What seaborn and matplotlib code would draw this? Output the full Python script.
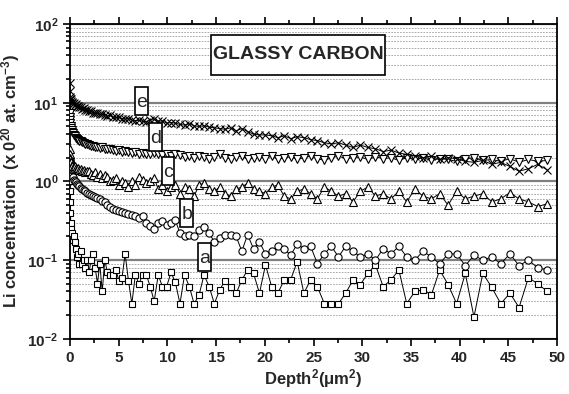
import numpy as np
import matplotlib
matplotlib.use('Agg')
import matplotlib.pyplot as plt
from matplotlib.path import Path
from matplotlib.ticker import LogLocator, MultipleLocator, NullFormatter
import seaborn as sns

# Depth^2 (um^2) sampling of the SIMS profiles
depth2 = [0.0, 0.005, 0.02, 0.04, 0.08, 0.12, 0.18, 0.24, 0.31, 0.40,
          0.49, 0.59, 0.71, 0.83, 0.96, 1.10, 1.25, 1.42, 1.59, 1.77,
          1.96, 2.16, 2.37, 2.59, 2.82, 3.06, 3.31, 3.57, 3.84, 4.12,
          4.41, 4.71, 5.02, 5.34, 5.66, 6.00, 6.35, 6.71, 7.08, 7.45,
          7.84, 8.24, 8.64, 9.06, 9.49, 9.92, 10.37, 10.82, 11.29, 11.76,
          12.25, 12.74, 13.25, 13.76, 14.29, 14.82, 15.37, 15.92, 16.48, 17.06,
          17.64, 18.23, 18.84, 19.45, 20.07, 20.70, 21.34, 21.99, 22.65, 23.32,
          24.01, 24.70, 25.40, 26.11, 26.83, 27.56, 28.30, 29.05, 29.81, 30.58,
          31.36, 32.15, 32.95, 33.76, 34.57, 35.40, 36.24, 37.09, 37.95, 38.81,
          39.69, 40.58, 41.47, 42.38, 43.30, 44.22, 45.16, 46.10, 47.06, 48.02,
          49.00]

# Li concentration (x 10^20 at/cm3) for samples a..e
conc_a = [1.0, 0.75, 0.55, 0.4, 0.3, 0.25, 0.2, 0.22, 0.18, 0.2,
          0.17, 0.14, 0.11, 0.12, 0.09, 0.13, 0.09, 0.1, 0.08, 0.1,
          0.07, 0.1, 0.12, 0.08, 0.05, 0.09, 0.04, 0.1, 0.07, 0.065,
          0.065, 0.075, 0.055, 0.06, 0.12, 0.055, 0.028, 0.065, 0.05, 0.065,
          0.065, 0.046, 0.03, 0.065, 0.046, 0.046, 0.07, 0.052, 0.028, 0.065,
          0.046, 0.028, 0.036, 0.065, 0.046, 0.028, 0.042, 0.055, 0.046, 0.038,
          0.056, 0.075, 0.068, 0.038, 0.087, 0.046, 0.038, 0.056, 0.056, 0.096,
          0.038, 0.056, 0.046, 0.028, 0.028, 0.028, 0.038, 0.056, 0.049, 0.068,
          0.087, 0.046, 0.056, 0.075, 0.028, 0.04, 0.042, 0.036, 0.075, 0.049,
          0.028, 0.068, 0.019, 0.068, 0.045, 0.028, 0.038, 0.025, 0.06, 0.05,
          0.04]
conc_b = [1.9, 1.8, 1.7, 1.6, 1.5, 1.4, 1.3, 1.2, 1.15, 1.05,
          1.0, 0.97, 0.93, 0.9, 0.87, 0.83, 0.8, 0.77, 0.75, 0.72,
          0.7, 0.67, 0.65, 0.63, 0.61, 0.6, 0.57, 0.54, 0.5, 0.47,
          0.44, 0.43, 0.42, 0.41, 0.4, 0.39, 0.37, 0.36, 0.34, 0.36,
          0.3, 0.27, 0.25, 0.3, 0.31, 0.28, 0.3, 0.32, 0.22, 0.2,
          0.21, 0.2, 0.24, 0.26, 0.22, 0.17, 0.19, 0.21, 0.21, 0.2,
          0.13, 0.21, 0.14, 0.17, 0.12, 0.13, 0.15, 0.14, 0.115, 0.16,
          0.14, 0.15, 0.09, 0.12, 0.15, 0.11, 0.15, 0.13, 0.11, 0.12,
          0.1, 0.14, 0.12, 0.15, 0.11, 0.1, 0.13, 0.11, 0.09, 0.12,
          0.12, 0.085, 0.115, 0.1, 0.11, 0.09, 0.12, 0.085, 0.1, 0.08,
          0.075]
conc_c = [2.6, 2.2, 2.0, 1.9, 1.8, 1.75, 1.6, 1.55, 1.5, 1.45,
          1.55, 1.5, 1.45, 1.5, 1.4, 1.45, 1.35, 1.4, 1.3, 1.35,
          1.35, 1.25, 1.2, 1.3, 1.15, 1.25, 1.1, 1.2, 1.15, 1.0,
          1.05, 1.1, 0.9, 1.0, 0.95, 0.85, 1.0, 0.9, 1.15, 1.05,
          0.95, 1.0, 1.1, 0.8, 0.9, 0.75, 0.85, 0.9, 0.7, 0.85,
          0.8, 0.65, 0.9, 0.95, 0.8, 0.75, 0.85, 0.7, 0.65, 0.8,
          0.85, 0.95, 0.8, 0.75, 0.7, 0.85, 0.9, 0.65, 0.6, 0.75,
          0.8, 0.7, 0.6, 0.85, 0.75, 0.65, 0.7, 0.55, 0.75, 0.85,
          0.65, 0.7, 0.6, 0.75, 0.55, 0.8, 0.65, 0.6, 0.7, 0.5,
          0.75, 0.6, 0.65, 0.7, 0.55, 0.6, 0.72, 0.6, 0.55, 0.48,
          0.52]
conc_d = [7.5, 6.5, 6.0, 5.5, 5.0, 4.8, 4.5, 4.3, 4.1, 3.9,
          3.8, 3.6, 3.5, 3.4, 3.3, 3.25, 3.15, 3.1, 3.0, 2.95,
          2.9, 2.85, 2.8, 2.75, 2.7, 2.65, 2.7, 2.6, 2.55, 2.6,
          2.5, 2.45, 2.5, 2.4, 2.45, 2.35, 2.3, 2.35, 2.25, 2.3,
          2.2, 2.25, 2.3, 2.2, 2.15, 2.2, 2.1, 2.2, 2.15, 2.05,
          2.1, 2.0, 2.1, 2.05, 1.95, 2.05, 2.2, 2.0, 1.95, 2.05,
          2.1, 1.9, 2.0, 2.05, 1.95, 2.1, 1.9, 2.0, 2.05, 1.9,
          2.0, 2.1, 1.95, 1.85, 2.0, 2.1, 1.95, 2.0, 2.05, 1.9,
          2.05, 1.95, 2.0, 1.85, 2.0, 1.9, 2.0, 1.85, 1.95, 1.9,
          1.8, 1.95, 2.0, 1.85, 1.9, 1.8, 1.95, 1.75, 1.9, 1.8,
          1.85]
conc_e = [18, 14, 12, 11, 10.5, 11, 10, 10.2, 9.6, 9.8,
          9.3, 9.5, 9.0, 9.1, 8.7, 8.8, 8.4, 8.5, 8.1, 8.0,
          7.8, 7.9, 7.5, 7.4, 7.4, 7.1, 7.2, 6.9, 6.8, 6.9,
          6.6, 6.5, 6.5, 6.3, 6.2, 6.3, 6.0, 5.9, 6.0, 5.8,
          5.7, 6.1, 6.2, 5.8, 5.9, 5.5, 5.6, 5.5, 5.3, 5.2,
          5.4, 5.1, 5.0, 5.1, 4.9, 4.8, 4.7, 4.6, 4.8, 4.4,
          4.7, 4.3, 4.0, 3.9, 3.9, 3.8, 3.6, 3.8, 3.5, 3.7,
          3.6, 3.4, 3.3, 3.1, 3.0, 3.1, 2.9, 2.7, 2.9, 2.7,
          2.6, 2.4, 2.5, 2.3, 2.2, 2.1, 2.0, 2.1, 1.9, 2.0,
          1.95, 1.8, 1.75, 1.85, 1.65, 1.75, 1.55, 1.35, 1.45, 1.65,
          1.4]

labels = ['a', 'b', 'c', 'd', 'e']
label_x = [13.8, 12.0, 10.1, 8.8, 7.35]
label_y = [0.104, 0.376, 1.3, 3.5, 10.1]

sns.set_style('ticks')
plt.rcParams['font.family'] = ['Liberation Sans', 'DejaVu Sans']
plt.rcParams['font.weight'] = 'bold'
plt.rcParams['mathtext.fontset'] = 'custom'
plt.rcParams['mathtext.rm'] = 'Liberation Sans'
plt.rcParams['mathtext.bf'] = 'Liberation Sans:bold'
plt.rcParams['mathtext.it'] = 'Liberation Sans:italic'
plt.rcParams['mathtext.default'] = 'bf'


def tall_box(padx, pad_top, pad_bottom):
    # rectangular text box with separate horizontal / vertical padding
    def style(x0, y0, width, height, mutation_size):
        px = padx * mutation_size
        pt = pad_top * mutation_size
        pb = pad_bottom * mutation_size
        verts = [(x0 - px, y0 - pb), (x0 + width + px, y0 - pb),
                 (x0 + width + px, y0 + height + pt), (x0 - px, y0 + height + pt),
                 (x0 - px, y0 - pb)]
        return Path(verts, closed=True)
    return style


fig, ax = plt.subplots(figsize=(5.69, 3.94), dpi=100)
fig.subplots_adjust(left=0.123, right=0.979, top=0.939, bottom=0.14)

series = [(conc_a, 's', 4.5), (conc_b, 'o', 5.2), (conc_c, '^', 5.8),
          (conc_d, 'v', 5.8), (conc_e, 'x', 5.2)]
for y, m, ms in series:
    sns.lineplot(x=depth2, y=y, ax=ax, color='black', linewidth=0.7,
                 marker=m, markersize=ms, markerfacecolor='white',
                 markeredgecolor='black', markeredgewidth=0.8,
                 estimator=None, sort=False, zorder=3)

ax.set_yscale('log')
ax.set_xlim(0, 50)
ax.set_ylim(0.01, 100)
ax.xaxis.set_major_locator(MultipleLocator(5))
ax.xaxis.set_minor_locator(MultipleLocator(2.5))
ax.yaxis.set_major_locator(LogLocator(base=10))
ax.yaxis.set_minor_locator(LogLocator(base=10, subs=np.arange(2, 10)))
ax.yaxis.set_minor_formatter(NullFormatter())

ax.grid(which='major', axis='y', color='#808080', linewidth=1.6, linestyle='-', zorder=0)
ax.grid(which='minor', axis='y', color='#9a9a9a', linewidth=0.6, linestyle=(0, (2, 1.5)), zorder=0)
ax.grid(which='both', axis='x', visible=False)

ax.tick_params(axis='x', which='both', direction='out', top=True, bottom=True,
               labelsize=11, width=1.2, color='black')
ax.tick_params(axis='x', which='major', length=5)
ax.tick_params(axis='x', which='minor', length=3)
ax.tick_params(axis='y', which='both', direction='out', left=True, right=False,
               labelsize=11, width=1.2, color='black')
ax.tick_params(axis='y', which='major', length=5)
ax.tick_params(axis='y', which='minor', length=3)
for sp in ax.spines.values():
    sp.set_visible(True)
    sp.set_color('black')
    sp.set_linewidth(1.3)

ax.set_xlabel(r'Depth$^2$($\mu$m$^2$)', fontsize=12, fontweight='bold', labelpad=2)
ax.set_ylabel(r'Li concentration  (x 0$^{20}$ at. cm$^{-3}$)', fontsize=12,
              fontweight='bold', labelpad=4)

ax.text(0.469, 0.902, 'GLASSY CARBON', transform=ax.transAxes, ha='center', va='center',
        fontsize=14, fontweight='bold', zorder=5,
        bbox=dict(boxstyle=tall_box(0.08, 0.6, 0.6), facecolor='white', edgecolor='black', linewidth=1.2))

for lab, lx, ly in zip(labels, label_x, label_y):
    ax.text(lx, ly, lab, ha='center', va='center', fontsize=14, fontweight='normal', zorder=5,
            bbox=dict(boxstyle=tall_box(0.06, 0.36, 0.2), facecolor='white', edgecolor='black', linewidth=1.2))

plt.savefig('out.png', dpi=100)
